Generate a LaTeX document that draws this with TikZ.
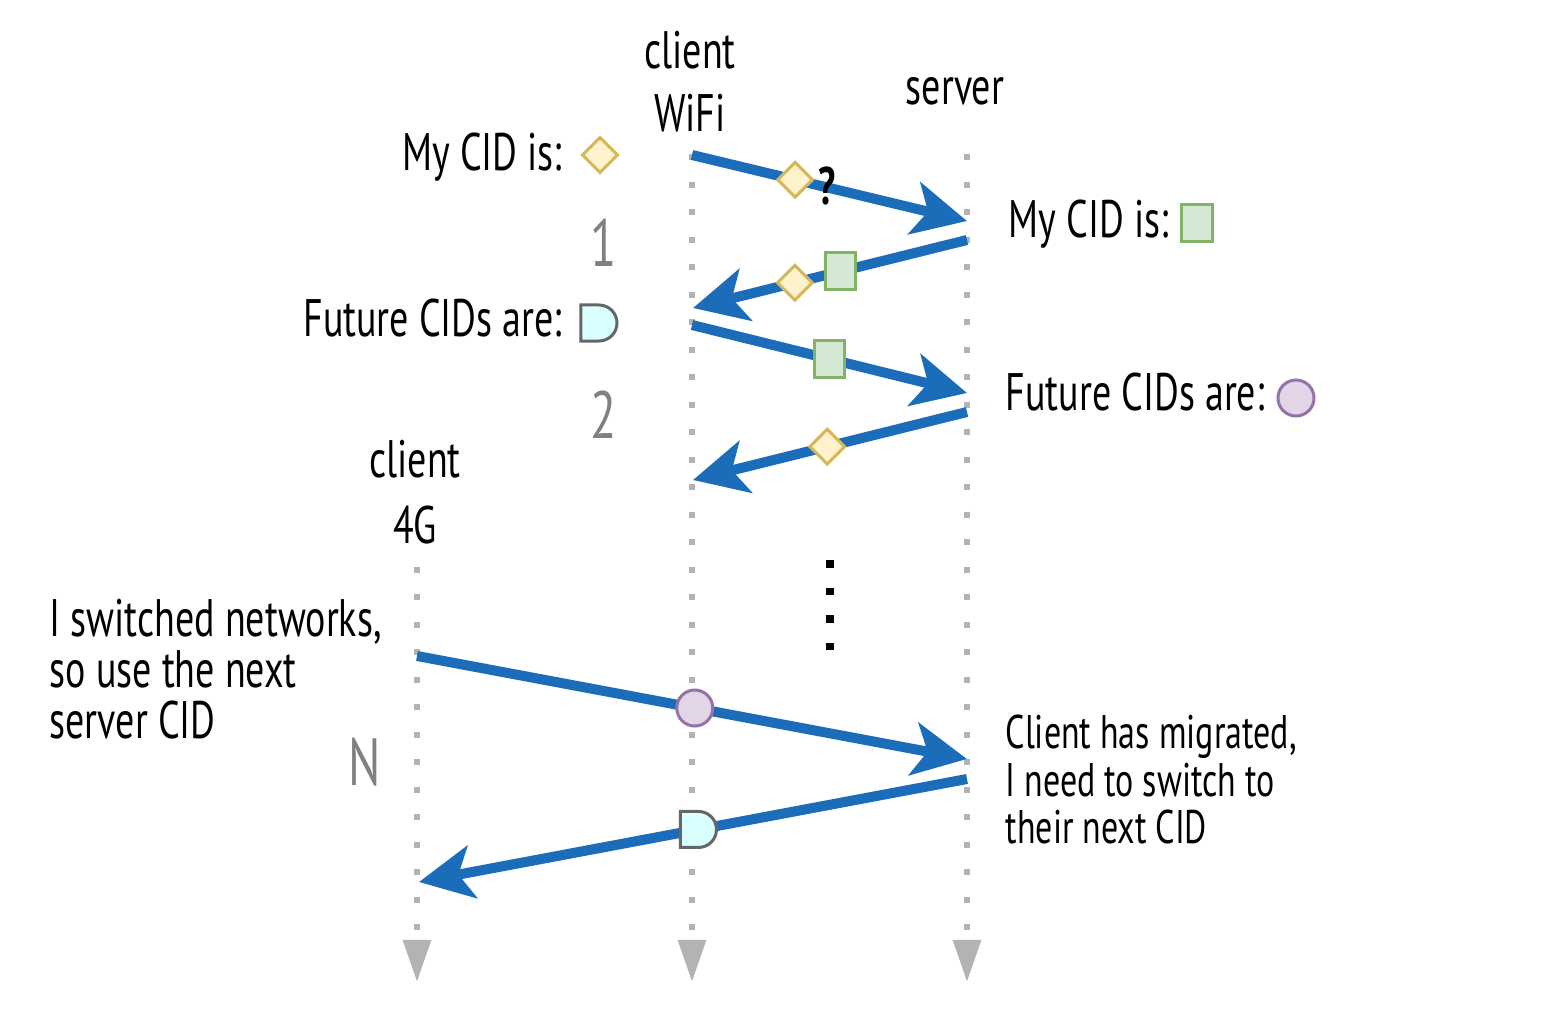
\documentclass[tikz,border=0pt]{standalone}
\usepackage{fontspec}
\setmainfont{PT Sans}[FakeStretch=0.72]
\usepackage{tikz}
\usetikzlibrary{arrows.meta,positioning,shapes.geometric,shapes.misc}

\definecolor{msgblue}{HTML}{1C6DB9}
\definecolor{lifegray}{HTML}{B3B3B3}
\definecolor{numgray}{HTML}{808080}
\definecolor{ylwfill}{HTML}{FFF2CC}
\definecolor{ylwline}{HTML}{D6B656}
\definecolor{grnfill}{HTML}{D5E8D4}
\definecolor{grnline}{HTML}{82B366}
\definecolor{purfill}{HTML}{E1D5E7}
\definecolor{purline}{HTML}{9673A6}
\definecolor{cyanfill}{HTML}{D9FFFF}
\definecolor{halfline}{HTML}{666666}

\begin{document}
\begin{tikzpicture}[x=0.01cm, y=-0.01cm,
    txt/.style={inner sep=0pt, font=\fontsize{15}{14.5}\selectfont},
    note/.style={inner sep=0pt, align=left, font=\fontsize{13.4}{13.6}\selectfont},
    seqnum/.style={inner sep=0pt, text=numgray, font=\fontsize{19}{19}\selectfont},
    lifeline/.style={lifegray, line width=0.06cm, dash pattern=on 0.06cm off 0.215cm,
        -{Triangle[length=0.42cm, width=0.27cm]}},
    msg/.style={msgblue, line width=0.1cm, -{Stealth[length=0.54cm, width=0.53cm, inset=0.14cm]}},
    cidmark/.style={inner sep=0pt, line width=0.03cm},
    diamondcid/.style={cidmark, diamond, aspect=1, minimum width=0.36cm, minimum height=0.36cm, draw=ylwline, fill=ylwfill},
    squarecid/.style={cidmark, rectangle, minimum width=0.3cm, minimum height=0.37cm, draw=grnline, fill=grnfill},
    circlecid/.style={cidmark, circle, minimum size=0.36cm, draw=purline, fill=purfill},
    halfcid/.style={cidmark, rounded rectangle, rounded rectangle west arc=none,
        minimum width=0.36cm, minimum height=0.36cm, draw=halfline, fill=cyanfill}]
    \useasboundingbox (0,0) rectangle (1562,1018);

    % heads
    \node [txt, anchor=base] (clientwifi) at (690,68) {client};
    \node [txt, anchor=base] (wifi) at (690,131) {WiFi};
    \node [txt, anchor=base] (server) at (955,104) {server};
    \node [txt, anchor=base] (client4g) at (415,478) {client};
    \node [txt, anchor=base] (lte) at (415,543) {4G};

    % lifelines
    \coordinate (wifitop) at (692,154);
    \coordinate (wifiend) at (692,982);
    \coordinate (servertop) at (967,154);
    \coordinate (serverend) at (967,982);
    \coordinate (ltetop) at (417,566.5);
    \coordinate (lteend) at (417,982);
    \draw[lifeline] (wifitop) -- (wifiend);
    \draw[lifeline] (servertop) -- (serverend);
    \draw[lifeline] (ltetop) -- (lteend);

    % legend
    \node [txt, anchor=base east] (mycid_c) at (563,170) {My CID is:};
    \node [diamondcid] (cid_c) at (600,155) {};
    \node [txt, anchor=base east] (future_c) at (563,337) {Future CIDs are:};
    \node [halfcid] (next_c) at (599,323) {};
    \node [txt, anchor=base west] (mycid_s) at (1008,238) {My CID is:};
    \node [squarecid] (cid_s) at (1197,223) {};
    \node [txt, anchor=base west] (future_s) at (1005,410) {Future CIDs are:};
    \node [circlecid] (next_s) at (1296,398) {};
    \node [seqnum, anchor=base] (one) at (604,266) {1};
    \node [seqnum, anchor=base] (two) at (604,438) {2};
    \node [seqnum, anchor=base] (last) at (365,785) {N};
    \node [txt, align=left, anchor=north west] (switched) at (49,598) {I switched networks,\\so use the next\\server CID};
    \node [note, anchor=north west] (migrated) at (1005,714) {Client has migrated,\\I need to switch to\\their next CID};

    % messages
    \coordinate (m1a) at (692,155); \coordinate (m1b) at (967,221);
    \coordinate (m2a) at (967,240); \coordinate (m2b) at (693,308);
    \coordinate (m3a) at (692,325); \coordinate (m3b) at (967,393);
    \coordinate (m4a) at (967,412); \coordinate (m4b) at (693,480);
    \coordinate (m5a) at (417,656); \coordinate (m5b) at (967,759);
    \coordinate (m6a) at (967,779); \coordinate (m6b) at (419,882);

    \draw[msg] (m1a) -- node[diamondcid, pos=0.375] (cid1) {} (m1b);
    \node [txt, font=\fontsize{15}{15}\selectfont\bfseries] (unknown) at (827,186) {?};
    \draw[msg] (m2a) -- node[diamondcid, pos=0.628] (cid2) {} node[squarecid, pos=0.46] (cid3) {} (m2b);
    \draw[msg] (m3a) -- node[squarecid, pos=0.5] (cid4) {} (m3b);
    \draw[msg] (m4a) -- node[diamondcid, pos=0.51] (cid5) {} (m4b);
    \draw[msg] (m5a) -- node[circlecid, pos=0.505] (cid6) {} (m5b);
    \draw[msg] (m6a) -- node[halfcid, pos=0.49] (cid7) {} (m6b);

    % more rounds
    \foreach \i in {0,...,3}
        \node [fill, inner sep=0pt, minimum size=0.07cm] (more\i) at (830,564+27.5*\i) {};
\end{tikzpicture}
\end{document}
